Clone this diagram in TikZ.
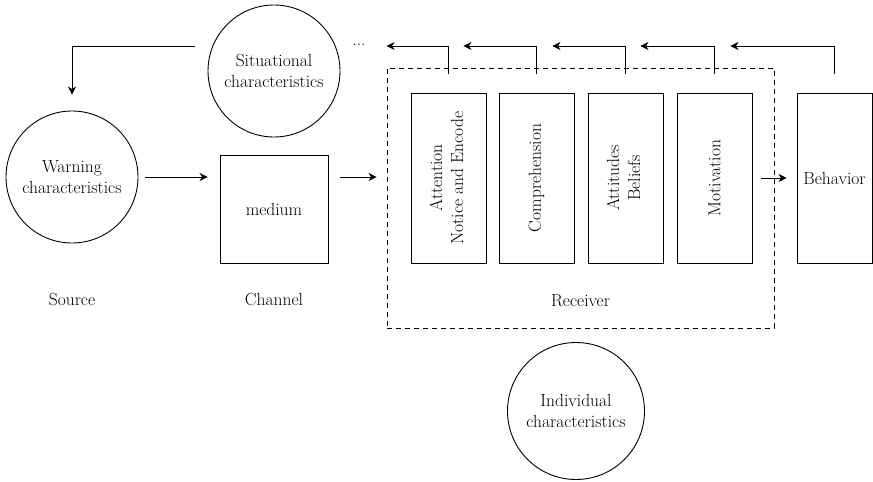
\documentclass[tikz,border=0pt]{standalone}
\usetikzlibrary{arrows.meta,calc,positioning}

\begin{document}
\begin{tikzpicture}[x=1pt,y=-1pt,line width=0.9pt,
  font=\fontsize{17.5}{21}\selectfont,
  circ/.style={draw,circle,minimum size=132pt,inner sep=0pt,align=center},
  stagebox/.style={draw,minimum width=75pt,minimum height=170pt,inner sep=0pt},
  flow/.style={-{Stealth[length=8pt,width=8pt,inset=2.5pt]}}]
\useasboundingbox (0,0) rectangle (873,482);

% source, channel
\node[circ] (sit) at (274,71) {Situational\\characteristics};
\node[circ] (warn) at (72,177) {Warning\\characteristics};
\node[draw,minimum size=108pt,inner sep=0pt] (med) at (274,209) {medium};
\node (src) at (72,300) {Source};
\node (chan) at (274,300) {Channel};

% receiver
\node[draw,dash pattern=on 5pt off 4pt,minimum width=387pt,minimum height=260pt,inner sep=0pt] (recv) at (580.5,198) {};
\node[above=18pt of recv.south] (recvlbl) {Receiver};
\node[stagebox] (att) at (448.5,178) {\rotatebox{90}{\begin{tabular}{@{}c@{}}Attention\\Notice and Encode\end{tabular}}};
\node[stagebox] (comp) at (536.5,178) {\rotatebox{90}{Comprehension}};
\node[stagebox] (atti) at (625.5,178) {\rotatebox{90}{\begin{tabular}{@{}c@{}}Attitudes\\Beliefs\end{tabular}}};
\node[stagebox] (mot) at (714.5,178) {\rotatebox{90}{Motivation}};
\node[stagebox] (beh) at (834.5,178) {Behavior};

\node[circ,minimum size=137pt] (indiv) at (576,411) {Individual\\characteristics};
\node (dots) at (359,45) {...};

% forward arrows
\draw[flow] ([xshift=7pt]warn.east) -- ([xshift=-12pt]warn.east -| med.west);
\draw[flow] ([xshift=12pt]warn.east -| med.east) -- ([xshift=-10pt]warn.east -| recv.west);
\draw[flow] ([xshift=9pt]mot.east) -- ([xshift=-10pt]beh.west);

% feedback
\coordinate (top) at (0,46);
\draw[flow] ([yshift=19pt]att.north) -- (att.north |- top) -- (recv.west |- top);
\draw[flow] ([yshift=19pt]comp.north) -- (comp.north |- top) -- ([xshift=-23pt]att.east |- top);
\draw[flow] ([yshift=19pt]atti.north) -- (atti.north |- top) -- ([xshift=-22pt]comp.east |- top);
\draw[flow] ([yshift=19pt]mot.north) -- (mot.north |- top) -- ([xshift=-23pt]atti.east |- top);
\draw[flow] ([yshift=19pt]beh.north) -- (beh.north |- top) -- ([xshift=-22pt]mot.east |- top);
\draw[flow] ([xshift=-13pt]sit.west |- top) -| ([yshift=16pt]warn.north);

\end{tikzpicture}
\end{document}
